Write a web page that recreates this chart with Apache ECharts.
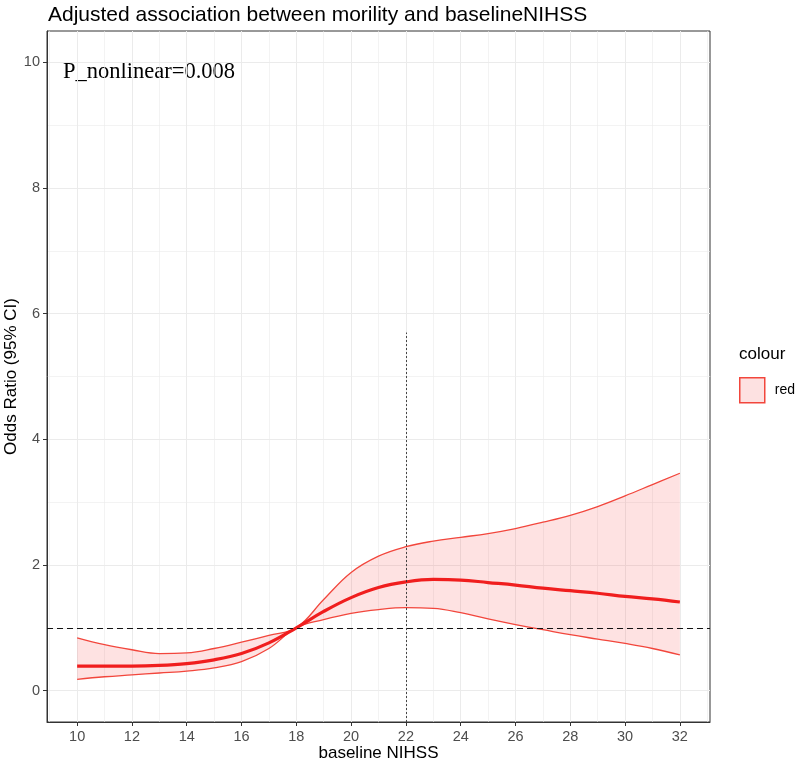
<!DOCTYPE html>
<html>
<head>
<meta charset="utf-8">
<script src="https://cdn.jsdelivr.net/npm/echarts@6/dist/echarts.min.js"></script>
<style>
  html, body { margin: 0; padding: 0; background: #fff; }
  #chart { width: 797px; height: 764px; }
</style>
</head>
<body>
<div id="chart"></div>
<script>
// baseline NIHSS values
const nihss = [10, 11, 12, 13, 14, 15, 16, 17, 18, 19, 20, 21, 22, 23, 24, 25, 26, 27, 28, 29, 30, 31, 32]
// odds ratio estimate and 95% CI
const orMid = [0.39, 0.39, 0.39, 0.40, 0.43, 0.49, 0.59, 0.76, 1.0, 1.26, 1.48, 1.64, 1.73, 1.77, 1.76, 1.72, 1.68, 1.63, 1.59, 1.55, 1.50, 1.46, 1.41]
const orLow = [0.18, 0.22, 0.25, 0.28, 0.31, 0.36, 0.46, 0.67, 1.0, 1.13, 1.23, 1.29, 1.32, 1.31, 1.24, 1.14, 1.05, 0.97, 0.89, 0.82, 0.75, 0.67, 0.57]
const orHigh = [0.84, 0.73, 0.65, 0.59, 0.60, 0.67, 0.77, 0.88, 1.0, 1.45, 1.88, 2.14, 2.29, 2.38, 2.44, 2.50, 2.58, 2.68, 2.79, 2.93, 3.10, 3.28, 3.46]

const xTicks = [10, 12, 14, 16, 18, 20, 22, 24, 26, 28, 30, 32]
const xMinor = [9, 11, 13, 15, 17, 19, 21, 23, 25, 27, 29, 31, 33]
const yTicks = [0, 2, 4, 6, 8, 10]
const yMinor = [1, 3, 5, 7, 9]

const refOR = 1
const cutX = 22
const cutTop = 5.7

const chart = echarts.init(document.getElementById('chart'), null, { renderer: 'canvas' })

const sans = 'Liberation Sans, Arial, sans-serif'
const bandColor = 'rgba(248, 60, 60, 0.15)'
const edgeColor = '#F2463C'
const midColor = '#F01E1E'

const pairs = arr => nihss.map((x, i) => [x, arr[i]])
// y first so the stack runs on the y values (encoded back below)
const yFirst = arr => nihss.map((x, i) => [arr[i], x])

const gridLines = [
  ...xTicks.map(v => ({ xAxis: v, lineStyle: { width: 1 } })),
  ...xMinor.map(v => ({ xAxis: v, lineStyle: { width: 0.6 } })),
  ...yTicks.map(v => ({ yAxis: v, lineStyle: { width: 1 } })),
  ...yMinor.map(v => ({ yAxis: v, lineStyle: { width: 0.6 } }))
]

const option = {
  animation: false,
  backgroundColor: '#fff',
  title: {
    text: 'Adjusted association between morility and baselineNIHSS',
    left: 43,
    top: 0,
    textStyle: { fontFamily: sans, fontSize: 21, fontWeight: 'normal', color: '#000' }
  },
  legend: {
    orient: 'vertical',
    left: 734,
    top: 372,
    itemWidth: 25,
    itemHeight: 25,
    textStyle: { fontFamily: sans, fontSize: 14, color: '#000', padding: [0, 0, 0, 5] },
    data: [{
      name: 'red',
      icon: 'rect',
      itemStyle: { color: '#FDE1E1', borderColor: edgeColor, borderWidth: 1.5 }
    }]
  },
  graphic: [
    {
      type: 'text',
      left: 739,
      top: 346,
      style: { text: 'colour', font: '17px ' + sans, fill: '#000' }
    },
    {
      type: 'text',
      left: 63,
      top: 61,
      style: { text: 'P_nonlinear=0.008', font: '22.5px Liberation Serif, Times New Roman, serif', fill: '#000' }
    }
  ],
  grid: {
    left: 47,
    top: 31,
    right: 87,
    bottom: 42,
    outerBoundsMode: 'none',
    containLabel: false,
    show: true,
    borderColor: '#333',
    borderWidth: 1,
    backgroundColor: 'transparent'
  },
  xAxis: {
    type: 'value',
    min: 8.9,
    max: 33.1,
    name: 'baseline NIHSS',
    nameLocation: 'middle',
    nameGap: 23,
    nameMoveOverlap: false,
    nameTextStyle: { fontFamily: sans, fontSize: 17, color: '#000' },
    axisLine: { show: true, onZero: false, lineStyle: { color: '#333', width: 1 } },
    axisTick: { show: true, length: 4, lineStyle: { color: '#333' }, customValues: xTicks },
    axisLabel: { fontFamily: sans, fontSize: 14.5, color: '#4D4D4D', margin: 7, customValues: xTicks },
    splitLine: { show: false }
  },
  yAxis: {
    type: 'value',
    min: -0.5,
    max: 10.5,
    name: 'Odds Ratio (95% CI)',
    nameLocation: 'middle',
    nameGap: 27,
    nameMoveOverlap: false,
    nameTextStyle: { fontFamily: sans, fontSize: 17, color: '#000' },
    axisLine: { show: true, onZero: false, lineStyle: { color: '#333', width: 1 } },
    axisTick: { show: true, length: 4, lineStyle: { color: '#333' }, customValues: yTicks },
    axisLabel: { fontFamily: sans, fontSize: 14.5, color: '#4D4D4D', margin: 7, customValues: yTicks },
    splitLine: { show: false }
  },
  series: [
    {
      name: 'grid',
      type: 'line',
      data: [],
      z: 0,
      silent: true,
      markLine: {
        silent: true,
        z: 0,
        symbol: 'none',
        label: { show: false },
        lineStyle: { color: '#EBEBEB', type: 'solid' },
        data: gridLines
      }
    },
    {
      name: 'lowBase',
      type: 'line',
      stack: 'ci',
      data: yFirst(orLow),
      encode: { x: 1, y: 0 },
      smooth: 0.4,
      symbol: 'none',
      lineStyle: { width: 0 },
      z: 1,
      silent: true
    },
    {
      name: 'red',
      type: 'line',
      stack: 'ci',
      data: yFirst(orHigh.map((v, i) => v - orLow[i])),
      encode: { x: 1, y: 0 },
      smooth: 0.4,
      symbol: 'none',
      lineStyle: { width: 0 },
      areaStyle: { color: bandColor, opacity: 1 },
      itemStyle: { color: '#FDE1E1' },
      z: 1,
      silent: true
    },
    {
      name: 'upper',
      type: 'line',
      data: pairs(orHigh),
      smooth: 0.4,
      symbol: 'none',
      lineStyle: { color: edgeColor, width: 1.3 },
      z: 3,
      silent: true
    },
    {
      name: 'lower',
      type: 'line',
      data: pairs(orLow),
      smooth: 0.4,
      symbol: 'none',
      lineStyle: { color: edgeColor, width: 1.3 },
      z: 3,
      silent: true
    },
    {
      name: 'estimate',
      type: 'line',
      data: pairs(orMid),
      smooth: 0.4,
      symbol: 'none',
      lineStyle: { color: midColor, width: 3.2 },
      z: 4,
      silent: true,
      markLine: {
        silent: true,
        z: 6,
        symbol: 'none',
        label: { show: false },
        data: [
          { yAxis: refOR, lineStyle: { color: '#111', width: 1.2, type: [6, 4] } },
          [
            { coord: [cutX, -0.5], lineStyle: { color: '#333', width: 0.9, type: [2, 2] } },
            { coord: [cutX, cutTop] }
          ]
        ]
      }
    }
  ]
}

chart.setOption(option)
</script>
</body>
</html>
